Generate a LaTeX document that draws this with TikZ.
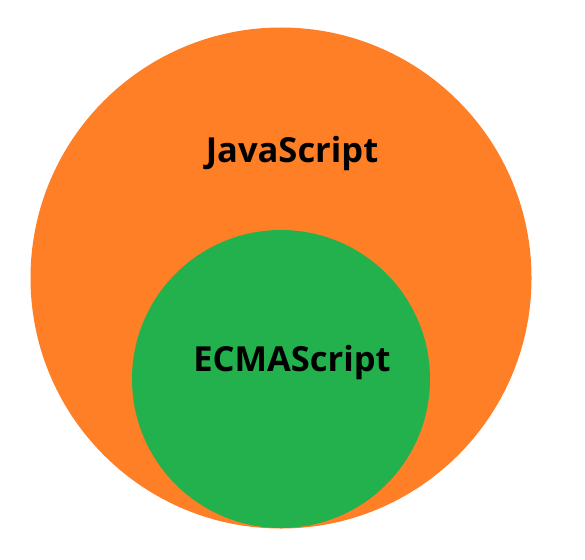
\documentclass[tikz,border=0pt]{standalone}
\usepackage{fontspec}
\setmainfont{Open Sans}
\usepackage{xcolor}
\usetikzlibrary{positioning}
\definecolor{jsorange}{HTML}{FF7F27}
\definecolor{esgreen}{HTML}{22B14C}
\tikzset{settitle/.style={font=\bfseries\fontsize{34.5}{38}\selectfont, text=black}}

\begin{document}
\begin{tikzpicture}[x=1pt, y=-1pt]
        \useasboundingbox (0,0) rectangle (585,559);
        \node[circle, fill=jsorange, minimum size=501pt, inner sep=0pt] (js) at (281,278) {};
        \node[circle, fill=esgreen, minimum size=298pt, inner sep=0pt] (ecma) at (281,379) {};
        \node[settitle] (jstext) at (292,154) {JavaScript};
        \node[settitle] (ecmatext) at (292,363) {ECMAScript};
    \end{tikzpicture}
\end{document}
